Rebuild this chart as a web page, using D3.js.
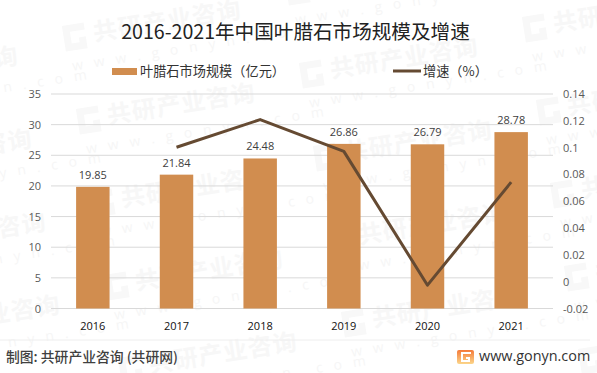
<!DOCTYPE html>
<html><head><meta charset="utf-8">
<script src="https://cdn.jsdelivr.net/npm/d3@7"></script>
<style>
html,body{margin:0;padding:0;background:#fff}
svg{display:block}
text{font-family:"Noto Sans CJK SC","Noto Sans",sans-serif}
.num{font-family:"Open Sans","Noto Sans",sans-serif}
</style></head><body><svg id="c" width="597" height="373"></svg>
<script>
const years=["2016","2017","2018","2019","2020","2021"];
const marketSize=[19.85,21.84,24.48,26.86,26.79,28.78];
const growth=[null,0.1003,0.1209,0.0972,-0.0026,0.0743];
const leftTicks=[0,5,10,15,20,25,30,35];
const rightTicks=[-0.02,0,0.02,0.04,0.06,0.08,0.1,0.12,0.14];
const titleText="2016-2021年中国叶腊石市场规模及增速";
const barLegend="叶腊石市场规模（亿元）";
const lineLegend="增速（%）";
const sourceText="制图: 共研产业咨询 (共研网)";
const siteText="www.gonyn.com";
const wmRows=[-1,0,1,2,3,4];
const wmCols=[-1,0,1,2];

const svg=d3.select("#c");
const x=d3.scaleBand().domain(years).range([51,553]).paddingInner(0.6).paddingOuter(0.3);
const y=d3.scaleLinear().domain([0,35]).range([308.5,94]);
const y2=d3.scaleLinear().domain([-0.02,0.14]).range([308.5,94]);
const cx=d=>x(d)+x.bandwidth()/2;

// watermark
const wm=svg.append("g");
wmRows.forEach(r=>wmCols.forEach(c=>{
  const px=63+14*r+237*c, py=46+83*r+37*c;
  if(px>585||px<-170||py>395||py<-15) return;
  const g=wm.append("g").attr("transform",`translate(${px},${py}) rotate(-9)`);
  g.append("path").attr("d","M2,-20h22v7h-15v12h8v-5h7v12h-22z").attr("fill","#f8f8f8");
  g.append("text").attr("x",32).attr("y",0).attr("font-size",24).attr("font-weight",700)
   .attr("letter-spacing",1).attr("fill","#f7f7f7").text("共研产业咨询");
  g.append("text").attr("class","num").attr("x",6).attr("y",26).attr("font-size",14)
   .attr("letter-spacing",11).attr("fill","#f6f6f6").text("www.gonyn.com");
}));

// gridlines
svg.append("g").selectAll("line").data(leftTicks).join("line")
  .attr("x1",51).attr("x2",553).attr("y1",d=>y(d)).attr("y2",d=>y(d))
  .attr("stroke","#d9d9d9").attr("stroke-width",1);

// bars
svg.append("g").selectAll("rect").data(years).join("rect")
  .attr("x",d=>x(d)).attr("width",x.bandwidth())
  .attr("y",(d,i)=>y(marketSize[i])).attr("height",(d,i)=>y(0)-y(marketSize[i]))
  .attr("fill","#d18d4f");

// line
const line=d3.line().defined(d=>d.v!==null).x(d=>cx(d.k)).y(d=>y2(d.v));
svg.append("path").datum(years.map((k,i)=>({k,v:growth[i]}))).attr("d",line)
  .attr("fill","none").attr("stroke","#654a32").attr("stroke-width",3).attr("stroke-linejoin","round");

// value labels
svg.append("g").selectAll("text").data(years).join("text").attr("class","num")
  .attr("x",cx).attr("y",(d,i)=>y(marketSize[i])-8).attr("text-anchor","middle")
  .attr("font-size",11).attr("fill","#404040").text((d,i)=>marketSize[i].toFixed(2));

// axes labels
svg.append("g").selectAll("text").data(leftTicks).join("text").attr("class","num")
  .attr("x",41).attr("y",d=>y(d)+4).attr("text-anchor","end").attr("font-size",11).attr("fill","#595959").text(d=>d);
svg.append("g").selectAll("text").data(rightTicks).join("text").attr("class","num")
  .attr("x",563).attr("y",d=>y2(d)+4).attr("font-size",11).attr("fill","#595959").text(d=>d);
svg.append("g").selectAll("text").data(years).join("text").attr("class","num")
  .attr("x",cx).attr("y",330).attr("text-anchor","middle").attr("font-size",11).attr("fill","#111").text(d=>d);

// title
svg.append("text").attr("x",295.5).attr("y",39).attr("text-anchor","middle").attr("font-size",19.6).attr("fill","#222").text(titleText);

// legend
svg.append("rect").attr("x",112).attr("y",68).attr("width",25).attr("height",7).attr("fill","#d18d4f");
svg.append("text").attr("x",140).attr("y",76).attr("font-size",13.2).attr("fill","#333").text(barLegend);
svg.append("line").attr("x1",393).attr("x2",421).attr("y1",71).attr("y2",71).attr("stroke","#654a32").attr("stroke-width",3);
svg.append("text").attr("x",423).attr("y",76).attr("font-size",13.2).attr("fill","#333").text(lineLegend);

// footer
svg.append("line").attr("x1",0).attr("x2",590).attr("y1",340).attr("y2",340).attr("stroke","#eeeeee");
svg.append("text").attr("x",6).attr("y",362).attr("font-size",13.8).attr("font-weight",500).attr("fill","#404040").text(sourceText);
const defs=svg.append("defs").append("linearGradient").attr("id","lg").attr("x1",0).attr("y1",0).attr("x2",0).attr("y2",1);
defs.append("stop").attr("offset",0).attr("stop-color","#f47a3a");
defs.append("stop").attr("offset",1).attr("stop-color","#fbd58a");
svg.append("rect").attr("x",457).attr("y",350).attr("width",17).attr("height",14).attr("rx",2).attr("fill","url(#lg)");
svg.append("path").attr("d","M471,353h-9v8h7v-3h-3").attr("fill","none").attr("stroke","#fff").attr("stroke-width",2);
svg.append("text").attr("class","num").attr("x",479).attr("y",361).attr("font-size",14.4).attr("fill","#333").text(siteText);
</script></body></html>
